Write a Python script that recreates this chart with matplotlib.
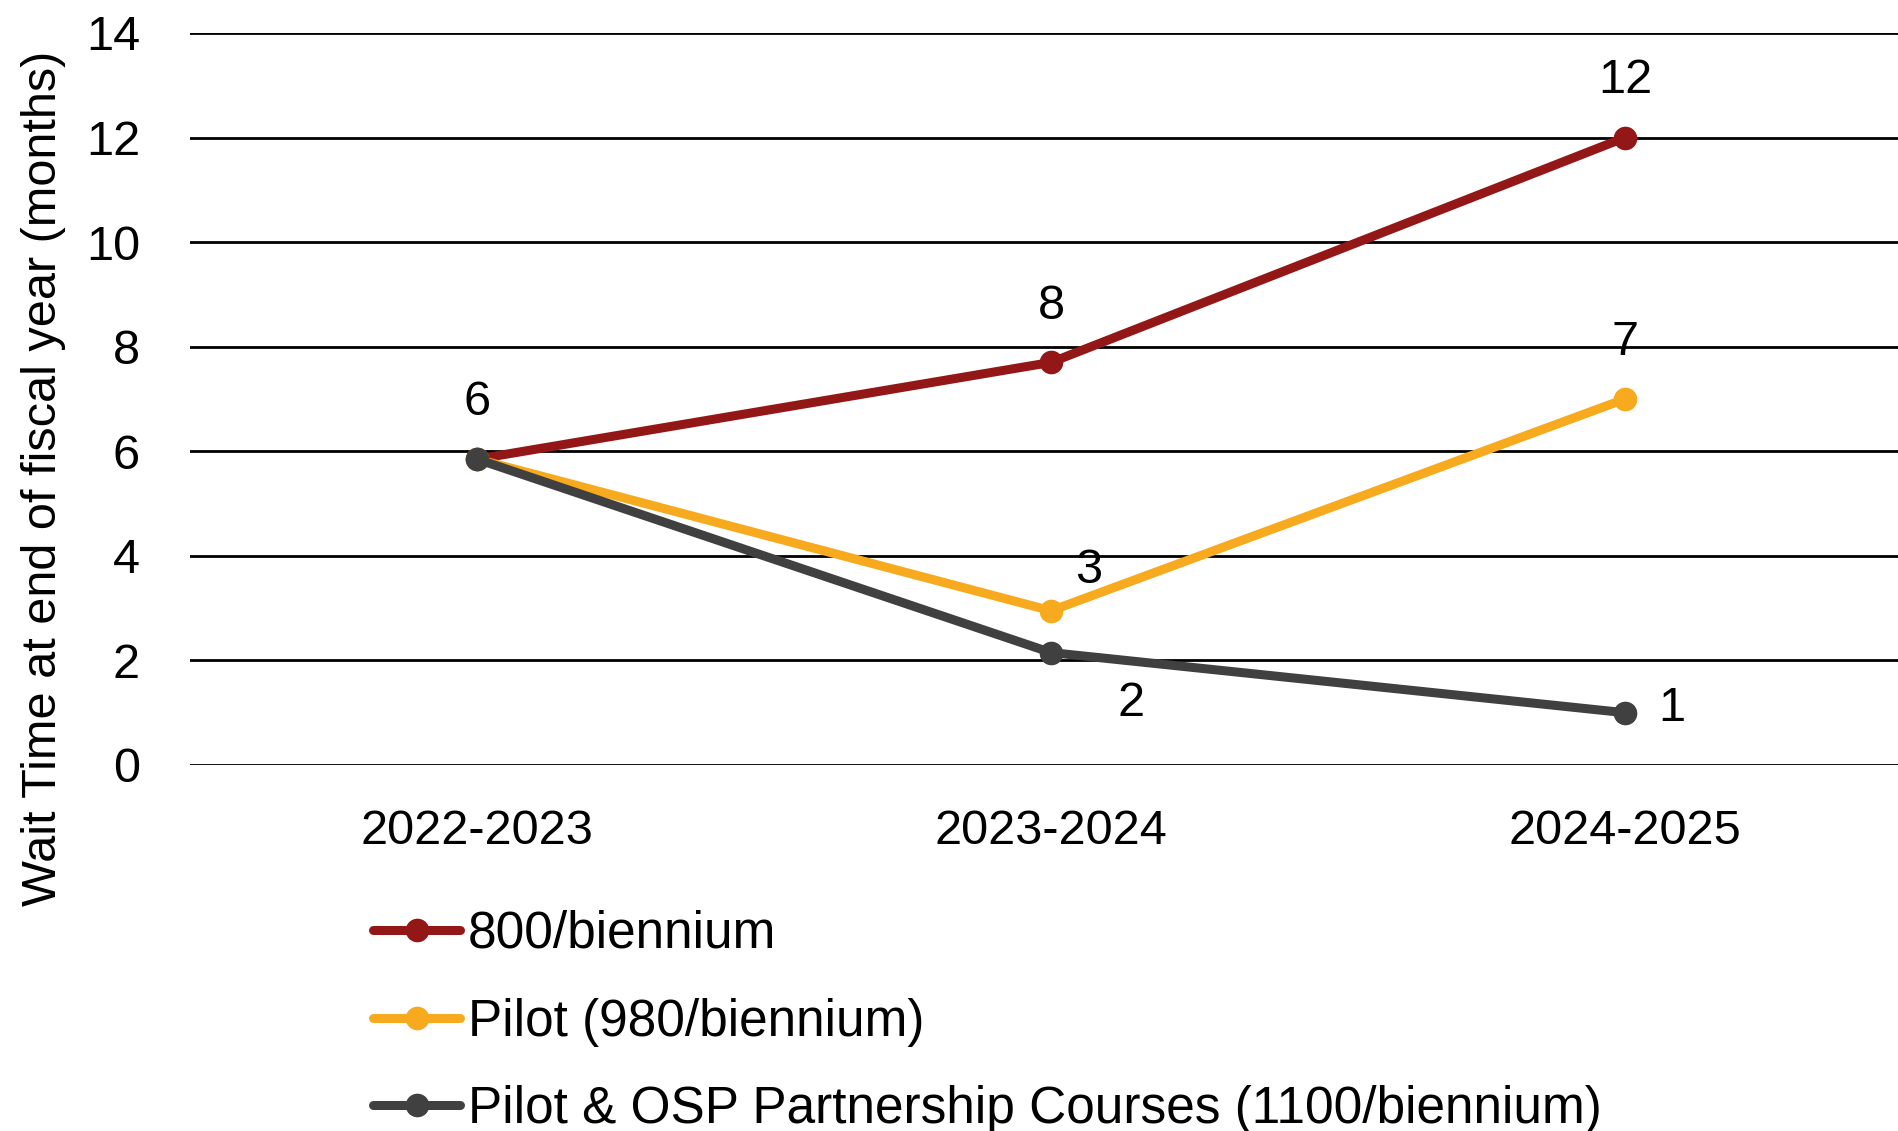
import matplotlib.pyplot as plt

years = ['2022-2023', '2023-2024', '2024-2025']
s800 = [5.85, 7.7, 12.0]
pilot = [5.85, 2.95, 7.0]
osp = [5.85, 2.15, 1.0]
names = ['800/biennium', 'Pilot (980/biennium)', 'Pilot & OSP Partnership Courses (1100/biennium)']
colors = ['#931717', '#F8AA1F', '#404040']

# data labels: (series index, point index, text, offset in points)
labels = [
    (0, 0, '6', (0, 41)),
    (0, 1, '8', (0, 40)),
    (0, 2, '12', (0, 41)),
    (1, 2, '7', (0, 41)),
    (1, 1, '3', (27, 29)),
    (2, 1, '2', (58, -37)),
    (2, 2, '1', (34, 3)),
]

plt.rcParams['font.family'] = ['Liberation Sans', 'DejaVu Sans']

fig = plt.figure(figsize=(18.98, 11.31), dpi=100)
ax = fig.add_axes([190 / 1898, 1 - 765 / 1131, 1722 / 1898, 732 / 1131])

x = range(len(years))
series = [s800, pilot, osp]
for vals, name, c in zip(series, names, colors):
    ax.plot(x, vals, color=c, lw=6.5, marker='o', ms=16, label=name, solid_capstyle='round', zorder=3)

for si, pi, txt, off in labels:
    ax.annotate(txt, (pi, series[si][pi]), xytext=off, textcoords='offset points',
                ha='center', va='center', fontsize=35, color='black')

ax.set_xlim(-0.5, 2.5)
ax.set_ylim(0, 14)
ax.set_yticks(range(0, 15, 2))
ax.set_xticks(list(x))
ax.set_xticklabels(years)
ax.tick_params(axis='both', length=0, labelsize=35)
ax.tick_params(axis='x', pad=32)
ax.tick_params(axis='y', pad=36)
ax.yaxis.grid(True, color='black', lw=2)
ax.set_axisbelow(True)
for sp in ax.spines.values():
    sp.set_visible(False)

fig.text(44 / 1898, 1 - 478 / 1131, 'Wait Time at end of fiscal year (months)', rotation=90,
         ha='center', va='center', fontsize=35)

fig.legend(loc='upper left', bbox_to_anchor=(373 / 1898, 1 - 910 / 1131), frameon=False,
           fontsize=37, handlelength=1.7, handletextpad=0.15, labelspacing=0.75,
           borderaxespad=0, borderpad=0)

fig.savefig('out.png', dpi=100)
